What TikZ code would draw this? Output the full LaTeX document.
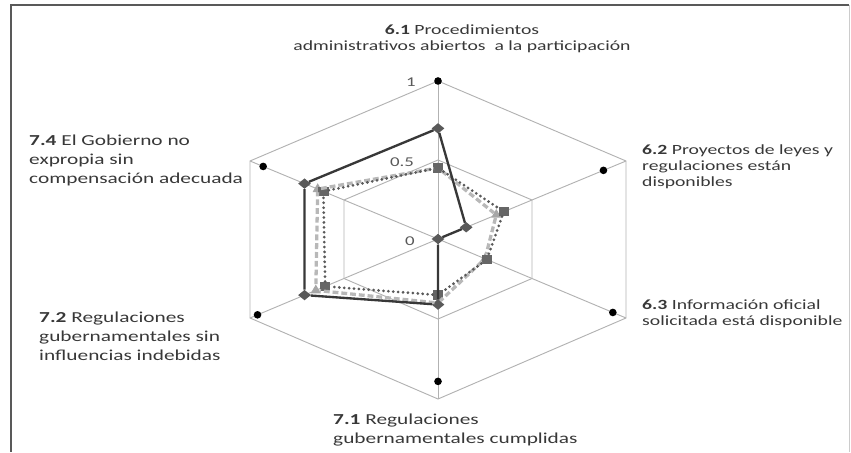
\documentclass[tikz,border=0pt]{standalone}
\usepackage{fontspec}
\setmainfont{Carlito}[FakeStretch=1.4]
\usetikzlibrary{calc,shapes.geometric}

\begin{document}
\begin{tikzpicture}[x=0.03cm,y=0.03cm,
  gridline/.style={draw=black!30,line width=0.8pt},
  maxdot/.style={circle,fill=black,inner sep=0pt,minimum size=6.5pt},
  markA/.style={diamond,fill=black!65,inner sep=0pt,minimum width=11pt,minimum height=9pt},
  markB/.style={rectangle,fill=black!60,inner sep=0pt,minimum width=9pt,minimum height=8pt},
  markC/.style={regular polygon,regular polygon sides=3,fill=black!35,inner sep=0pt,minimum size=10pt},
  serieA/.style={draw=black!78,line width=2pt},
  serieB/.style={draw=black!65,line width=2.6pt,line cap=round,dash pattern=on 0pt off 4.2pt},
  serieC/.style={draw=black!28,line width=2.8pt,dash pattern=on 5pt off 2.5pt},
  lblsmall/.style={font=\fontsize{12}{13.6}\selectfont,text=black!78,inner sep=0pt,align=left},
  lblbig/.style={font=\fontsize{13}{16.2}\selectfont,text=black!78,inner sep=0pt,align=left},
  ticklbl/.style={font=\fontsize{11.5}{13}\selectfont,text=black!65,inner sep=0pt}]
\useasboundingbox (0,0) rectangle (851,452);

% frame
\draw[black!20,line width=0.8pt] (849,0) -- (849,447);
\draw[black!65,line width=2pt] (11,0) -- (11,447) -- (849,447);

% axes of the radar
\coordinate (c) at (438,213);
\coordinate (o1) at (438,371);
\coordinate (o2) at (626,291);
\coordinate (o3) at (626,134);
\coordinate (o4) at (438,53);
\coordinate (o5) at (250,134);
\coordinate (o6) at (250,291);
\coordinate (i1) at ($(c)!0.5!(o1)$);
\coordinate (i2) at ($(c)!0.5!(o2)$);
\coordinate (i3) at ($(c)!0.5!(o3)$);
\coordinate (i4) at ($(c)!0.5!(o4)$);
\coordinate (i5) at ($(c)!0.5!(o5)$);
\coordinate (i6) at ($(c)!0.5!(o6)$);

\draw[gridline] (o1) -- (o2) -- (o3) -- (o4) -- (o5) -- (o6) -- cycle;
\draw[gridline] (i1) -- (i2) -- (i3) -- (i4) -- (i5) -- (i6) -- cycle;
\draw[gridline] (c) -- (o1);
\draw[gridline] (c) -- (o2);
\draw[gridline] (c) -- (o3);
\draw[gridline] (c) -- (o4);
\draw[gridline] (c) -- (o5);
\draw[gridline] (c) -- (o6);

\path
 ($(c)!1.00!(o1)$) node[maxdot] (m1) {}
 ($(c)!0.88!(o2)$) node[maxdot] (m2) {}
 ($(c)!0.93!(o3)$) node[maxdot] (m3) {}
 ($(c)!0.89!(o4)$) node[maxdot] (m4) {}
 ($(c)!0.96!(o5)$) node[maxdot] (m5) {}
 ($(c)!0.93!(o6)$) node[maxdot] (m6) {}

 ($(c)!0.45!(o1)$) node[markC] (c1) {}
 ($(c)!0.31!(o2)$) node[markC] (c2) {}
 ($(c)!0.25!(o3)$) node[markC] (c3) {}
 ($(c)!0.40!(o4)$) node[markC] (c4) {}
 ($(c)!0.65!(o5)$) node[markC] (c5) {}
 ($(c)!0.64!(o6)$) node[markC] (c6) {}

 ($(c)!0.45!(o1)$) node[markB] (b1) {}
 ($(c)!0.35!(o2)$) node[markB] (b2) {}
 ($(c)!0.26!(o3)$) node[markB] (b3) {}
 ($(c)!0.35!(o4)$) node[markB] (b4) {}
 ($(c)!0.60!(o5)$) node[markB] (b5) {}
 ($(c)!0.61!(o6)$) node[markB] (b6) {}

 ($(c)!0.70!(o1)$) node[markA] (a1) {}
 ($(c)!0.15!(o2)$) node[markA] (a2) {}
 (c) node[markA] (a3) {}
 ($(c)!0.41!(o4)$) node[markA] (a4) {}
 ($(c)!0.71!(o5)$) node[markA] (a5) {}
 ($(c)!0.71!(o6)$) node[markA] (a6) {}
 ;

\draw[serieC] (c1) -- (c2) -- (c3) -- (c4) -- (c5) -- (c6) -- (c1);
\draw[serieB] (b1) -- (b2) -- (b3) -- (b4) -- (b5) -- (b6) -- (b1);
\draw[serieA] (a1) -- (a2) -- (a3) -- (a4) -- (a5) -- (a6) -- (a1);

% scale
\node[ticklbl] (v1) at (411,370) {1};
\node[ticklbl] (v05) at (402,290) {0.5};
\node[ticklbl] (v0) at (410,211) {0};

% axis labels
\node[lblsmall,align=center] (l61) at (462,413) {\textbf{6.1} Procedimientos\\administrativos abiertos\ \ a la participación};
\node[lblsmall,anchor=north west] (l62) at (642,307) {\textbf{6.2} Proyectos\ de leyes y\\regulaciones están\\disponibles};
\node[lblsmall,anchor=north west] (l63) at (642,152) {\textbf{6.3} Información oficial\\solicitada está disponible};
\node[lblbig,anchor=north west] (l74) at (29,317) {\textbf{7.4} El Gobierno no\\expropia sin\\compensación adecuada};
\node[lblbig,anchor=north west] (l72) at (39,140) {\textbf{7.2} Regulaciones\\gubernamentales sin\\influencias indebidas};
\node[lblbig,anchor=north west] (l71) at (333,38) {\textbf{7.1} Regulaciones\\gubernamentales cumplidas};
\end{tikzpicture}
\end{document}
